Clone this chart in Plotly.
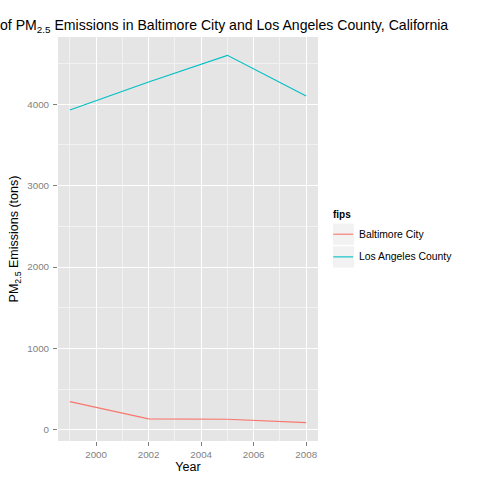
import plotly.graph_objects as go

# ---- data ----
years = [1999, 2002, 2005, 2008]
baltimore = [346.82, 134.31, 130.43, 88.28]
los_angeles = [3931.12, 4273.71, 4601.41, 4101.32]
series_names = ["Baltimore City", "Los Angeles County"]
x_ticks = [2000, 2002, 2004, 2006, 2008]
y_ticks = [0, 1000, 2000, 3000, 4000]

colors = ["#F8766D", "#00BFC4"]

W, H = 480, 480
L, R, T, B = 57.7, 318.3, 36.5, 441.0  # panel pixel box
PW, PH = R - L, B - T

def px(x):
    return (x - L) / PW

def py(y):
    return (B - y) / PH

FONT = "Liberation Sans, Arial, sans-serif"
GREY = "#7F7F7F"

fig = go.Figure()
for name, vals, col in zip(series_names, [baltimore, los_angeles], colors):
    fig.add_trace(go.Scatter(x=years, y=vals, mode="lines", name=name,
                             line=dict(color=col, width=1.1), showlegend=False))

allv = baltimore + los_angeles
lo, hi = min(allv), max(allv)
pad = (hi - lo) * 0.05
xpad = (max(years) - min(years)) * 0.05

fig.update_layout(
    width=W, height=H,
    margin=dict(l=L, r=W - R, t=T, b=H - B, autoexpand=False),
    paper_bgcolor="white",
    plot_bgcolor="#E5E5E5",
    font=dict(family=FONT, color="black"),
    title=dict(text="of PM<sub>2.5</sub> Emissions in Baltimore City and Los Angeles County, California",
               x=0, xref="container", xanchor="left",
               y=1 - 25.5 / H, yref="container", yanchor="middle",
               font=dict(size=14.1, color="black", family=FONT)),
    xaxis=dict(range=[min(years) - xpad, max(years) + xpad],
               tickvals=x_ticks, ticks="outside", ticklen=4, tickcolor=GREY, tickwidth=1,
               tickfont=dict(size=9.8, color=GREY),
               showgrid=True, gridcolor="white", gridwidth=1.3,
               minor=dict(tickvals=[1999, 2001, 2003, 2005, 2007], showgrid=True,
                          gridcolor="#F2F2F2", gridwidth=0.6),
               zeroline=False, showline=False, automargin=False,
               title=dict(text="Year", font=dict(size=12.5, color="black"), standoff=2)),
    yaxis=dict(range=[lo - pad, hi + pad],
               tickvals=y_ticks, ticks="outside", ticklen=4, tickcolor=GREY, tickwidth=1,
               tickfont=dict(size=9.8, color=GREY), ticklabelstandoff=2,
               showgrid=True, gridcolor="white", gridwidth=1.3,
               minor=dict(tickvals=[500, 1500, 2500, 3500, 4500], showgrid=True,
                          gridcolor="#F2F2F2", gridwidth=0.6),
               zeroline=False, showline=False, automargin=False,
               title=dict(text="PM<sub>2.5</sub> Emissions (tons)", font=dict(size=12.5, color="black"),
                          standoff=5)),
)

# ---- manual ggplot-style legend ----
shapes = []
annotations = [dict(text="<b>fips</b>", x=px(331.7), y=py(214), xref="paper", yref="paper",
                    xanchor="left", yanchor="middle", showarrow=False,
                    font=dict(size=10, color="black", family=FONT))]
boxes = [(223.3, 244.6), (246.0, 267.3)]
for (y0, y1), name, col in zip(boxes, series_names, colors):
    shapes.append(dict(type="rect", xref="paper", yref="paper",
                       x0=px(333.3), x1=px(354.3), y0=py(y1), y1=py(y0),
                       fillcolor="#F2F2F2", line=dict(width=0), layer="above"))
    yc = (y0 + y1) / 2
    shapes.append(dict(type="line", xref="paper", yref="paper",
                       x0=px(333.6), x1=px(353.6), y0=py(yc), y1=py(yc),
                       line=dict(color=col, width=1.1), layer="above"))
    annotations.append(dict(text=name, x=px(357), y=py(yc), xref="paper", yref="paper",
                            xanchor="left", yanchor="middle", showarrow=False,
                            font=dict(size=10.4, color="black", family=FONT)))
fig.update_layout(shapes=shapes, annotations=annotations)

fig.write_html("out.html")
